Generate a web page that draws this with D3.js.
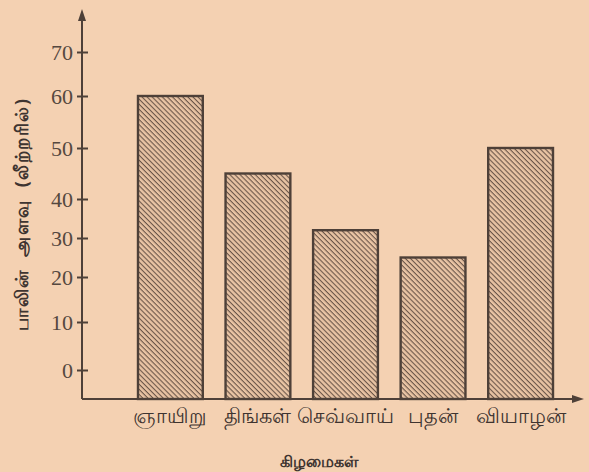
<!DOCTYPE html>
<html>
<head>
<meta charset="utf-8" />
<title>பாலின் அளவு</title>
<script src="https://cdn.jsdelivr.net/npm/d3@7"></script>
<style>
  body { margin: 0; background: #f4d1b2; }
</style>
</head>
<body>
<div id="vis"></div>
<script>
var w = 589, h = 472;

// data
var days = ["ஞாயிறு", "திங்கள்", "செவ்வாய்", "புதன்", "வியாழன்"];
var milk = [60, 45, 32, 25, 50];
var yTicks = [0, 10, 20, 30, 40, 50, 60, 70];

var ink = "#4e4038";
var base = 399;

var svg = d3.select("#vis").append("svg")
  .attr("width", w).attr("height", h);

svg.append("rect").attr("width", w).attr("height", h).attr("fill", "#f4d1b2");

var defs = svg.append("defs");
var pat = defs.append("pattern")
  .attr("id", "hatch")
  .attr("patternUnits", "userSpaceOnUse")
  .attr("width", 3.6).attr("height", 3.6)
  .attr("patternTransform", "rotate(45)");
pat.append("rect").attr("width", 3.6).attr("height", 3.6).attr("fill", "#e9c4a4");
pat.append("line").attr("x1", 0).attr("y1", 0).attr("x2", 3.6).attr("y2", 0)
  .attr("stroke", "#6a5548").attr("stroke-width", 2.2);

var x = d3.scaleBand().domain(days).range([138, 553]).paddingInner(0.26).paddingOuter(0);
// the printed axis is hand spaced, so the scale follows its tick marks
var y = d3.scaleLinear().domain(yTicks).range([370, 322, 277, 238, 199, 148, 96, 52]);

// bars
svg.selectAll("rect.bar")
  .data(milk)
  .enter().append("rect")
  .attr("class", "bar")
  .attr("x", function(d, i) { return x(days[i]); })
  .attr("y", function(d) { return y(d); })
  .attr("width", x.bandwidth())
  .attr("height", function(d) { return base - y(d); })
  .attr("fill", "url(#hatch)")
  .attr("stroke", ink)
  .attr("stroke-width", 2.4);

// y axis
svg.append("line").attr("x1", 82).attr("x2", 82).attr("y1", 18).attr("y2", base)
  .attr("stroke", ink).attr("stroke-width", 2);
svg.append("path").attr("d", "M82,9 L78,21 L86,21 Z").attr("fill", ink);

var yAxis = svg.append("g").attr("transform", "translate(88,0)")
  .call(d3.axisLeft(y).tickValues(yTicks).tickSize(11).tickSizeOuter(0));
yAxis.select(".domain").remove();
yAxis.selectAll(".tick line").attr("stroke", ink).attr("stroke-width", 2);
yAxis.selectAll(".tick text")
  .attr("x", -15)
  .attr("fill", "#55483f")
  .style("font-family", "'Liberation Serif', serif")
  .style("font-size", "22px");

// x axis
svg.append("line").attr("x1", 82).attr("x2", 574).attr("y1", base).attr("y2", base)
  .attr("stroke", ink).attr("stroke-width", 2);
svg.append("path").attr("d", "M584,399 L572,395 L572,403 Z").attr("fill", ink);

svg.selectAll("text.day")
  .data(days)
  .enter().append("text")
  .attr("class", "day")
  .attr("x", function(d) { return x(d) + x.bandwidth() / 2; })
  .attr("y", 423)
  .attr("text-anchor", "middle")
  .attr("fill", "#3e3430")
  .style("font-size", "21px")
  .style("font-family", "'Noto Sans', sans-serif")
  .text(function(d) { return d; });

svg.append("text")
  .attr("x", 319).attr("y", 467)
  .attr("text-anchor", "middle")
  .attr("fill", "#3e3430")
  .style("font-size", "16px")
  .style("font-weight", "bold")
  .style("font-family", "'Noto Sans', sans-serif")
  .text("கிழமைகள்");

svg.append("text")
  .attr("transform", "translate(28,214) rotate(-90)")
  .attr("text-anchor", "middle")
  .attr("fill", "#3e3430")
  .style("font-size", "18px")
  .style("font-weight", "bold")
  .style("letter-spacing", "1.5px")
  .style("word-spacing", "6px")
  .style("font-family", "'Noto Sans', sans-serif")
  .text("பாலின் அளவு (லீற்றரில்)");
</script>
</body>
</html>
